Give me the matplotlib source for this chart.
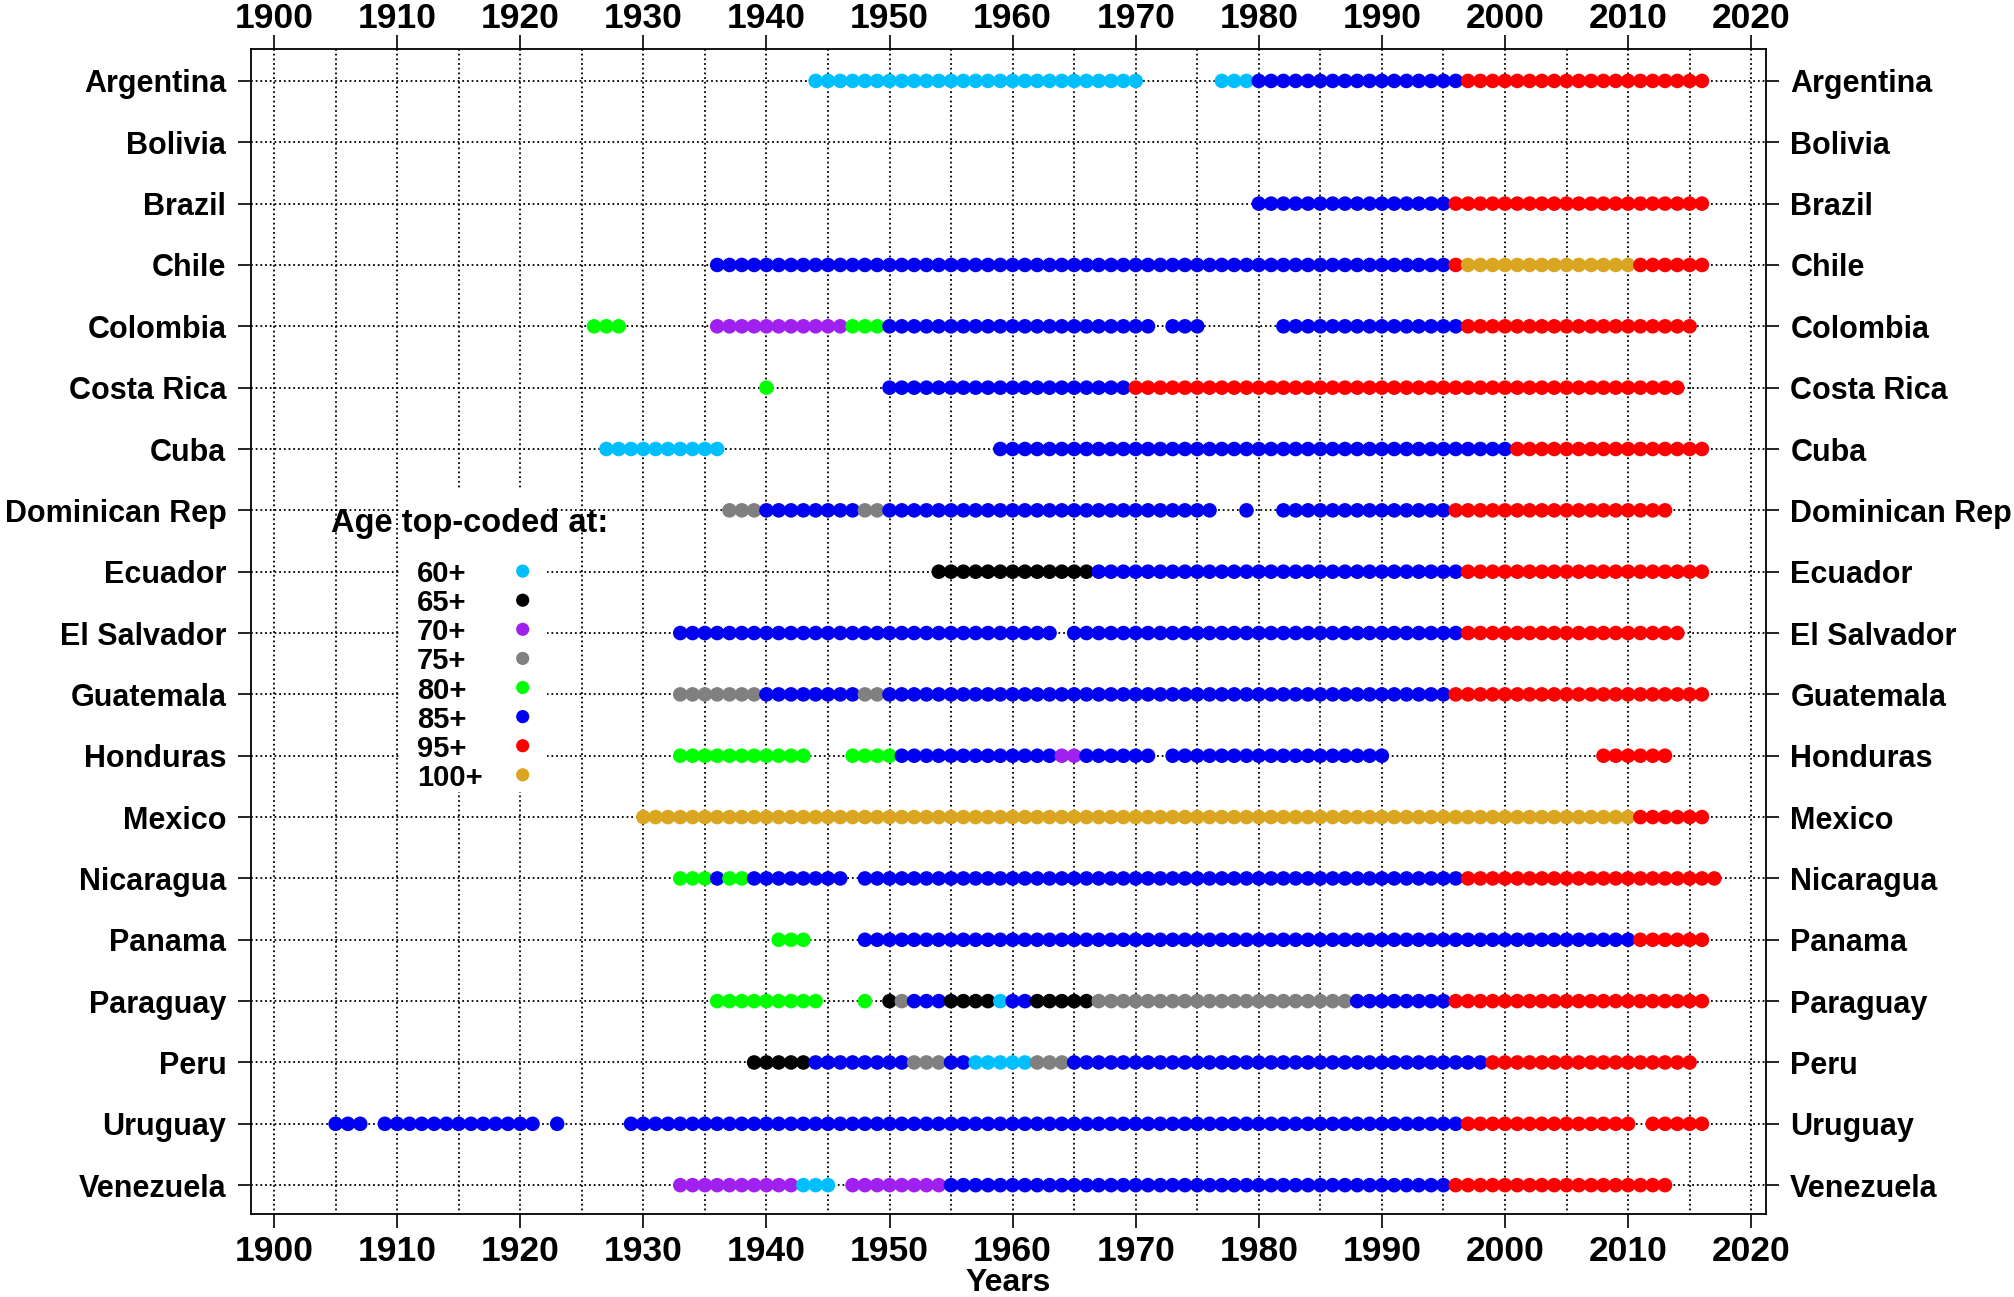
import matplotlib.pyplot as plt
from matplotlib.patches import Rectangle

plt.rcParams['font.family'] = ['Liberation Sans', 'DejaVu Sans']

countries = ['Argentina', 'Bolivia', 'Brazil', 'Chile', 'Colombia', 'Costa Rica', 'Cuba',
             'Dominican Rep', 'Ecuador', 'El Salvador', 'Guatemala', 'Honduras', 'Mexico',
             'Nicaragua', 'Panama', 'Paraguay', 'Peru', 'Uruguay', 'Venezuela']

# runs of consecutive years: (first year, last year, age top-code)
argentina = [(1944, 1970, 60), (1977, 1979, 60), (1980, 1996, 85), (1997, 2016, 95)]
bolivia = []
brazil = [(1980, 1995, 85), (1996, 2016, 95)]
chile = [(1936, 1995, 85), (1996, 1996, 95), (1997, 2010, 100), (2011, 2016, 95)]
colombia = [(1926, 1928, 80), (1936, 1946, 70), (1947, 1949, 80), (1950, 1971, 85),
            (1973, 1975, 85), (1982, 1996, 85), (1997, 2015, 95)]
costa_rica = [(1940, 1940, 80), (1950, 1969, 85), (1970, 2014, 95)]
cuba = [(1927, 1936, 60), (1959, 2000, 85), (2001, 2016, 95)]
dominican_rep = [(1937, 1939, 75), (1940, 1947, 85), (1948, 1949, 75), (1950, 1976, 85),
                 (1979, 1979, 85), (1982, 1995, 85), (1996, 2013, 95)]
ecuador = [(1954, 1966, 65), (1967, 1996, 85), (1997, 2016, 95)]
el_salvador = [(1933, 1963, 85), (1965, 1996, 85), (1997, 2014, 95)]
guatemala = [(1933, 1939, 75), (1940, 1947, 85), (1948, 1949, 75), (1950, 1995, 85),
             (1996, 2016, 95)]
honduras = [(1933, 1943, 80), (1947, 1950, 80), (1951, 1963, 85), (1964, 1965, 70),
            (1966, 1971, 85), (1973, 1990, 85), (2008, 2013, 95)]
mexico = [(1930, 2010, 100), (2011, 2016, 95)]
nicaragua = [(1933, 1935, 80), (1936, 1936, 85), (1937, 1938, 80), (1939, 1946, 85),
             (1948, 1996, 85), (1997, 2017, 95)]
panama = [(1941, 1943, 80), (1948, 2010, 85), (2011, 2016, 95)]
paraguay = [(1936, 1944, 80), (1948, 1948, 80), (1950, 1950, 65), (1951, 1951, 75),
            (1952, 1954, 85), (1955, 1958, 65), (1959, 1959, 60), (1960, 1961, 85),
            (1962, 1966, 65), (1967, 1987, 75), (1988, 1995, 85), (1996, 2016, 95)]
peru = [(1939, 1943, 65), (1944, 1951, 85), (1952, 1954, 75), (1955, 1956, 85),
        (1957, 1961, 60), (1962, 1964, 75), (1965, 1998, 85), (1999, 2015, 95)]
uruguay = [(1905, 1907, 85), (1909, 1921, 85), (1923, 1923, 85), (1929, 1996, 85),
           (1997, 2010, 95), (2012, 2016, 95)]
venezuela = [(1933, 1942, 70), (1943, 1945, 60), (1947, 1954, 70), (1955, 1995, 85),
             (1996, 2013, 95)]

country_runs = [argentina, bolivia, brazil, chile, colombia, costa_rica, cuba, dominican_rep,
                ecuador, el_salvador, guatemala, honduras, mexico, nicaragua, panama,
                paraguay, peru, uruguay, venezuela]

age_codes = [60, 65, 70, 75, 80, 85, 95, 100]
age_labels = ['60+', '65+', '70+', '75+', '80+', '85+', '95+', '100+']
age_colors = ['#00BFFF', '#000000', '#A020F0', '#808080', '#00FF00', '#0000F2', '#FF0000', '#DAA520']
color_of = dict(zip(age_codes, age_colors))

year_ticks = list(range(1900, 2021, 10))
narrow = ['Liberation Sans Narrow', 'Liberation Sans']

fig = plt.figure(figsize=(20.15, 12.97), dpi=100)
ax = fig.add_axes([0.1244, 0.064, 0.752, 0.8982])

xlo, xhi = 1898.1, 2021.2
ylo, yhi = 18.47, -0.52

# dotted grid
grid_style = dict(color='black', linestyle=(0, (1, 1.6)), linewidth=1.3, zorder=1)
ax.vlines(range(1900, 2021, 5), yhi, ylo, **grid_style)
ax.hlines(range(len(countries)), xlo, xhi, **grid_style)

for row, runs in enumerate(country_runs):
    for first, last, code in runs:
        yrs = list(range(first, last + 1))
        ax.scatter(yrs, [row] * len(yrs), s=110, color=color_of[code],
                   edgecolors='none', zorder=3)

# legend (drawn by hand, white box behind the keys only)
ax.add_patch(Rectangle((1910.24, 6.67), 11.94, 4.92, facecolor='white',
                       edgecolor='none', zorder=2))
ax.text(1904.6, 7.35, 'Age top-coded at:', fontsize=23.5, fontweight='bold',
        ha='left', va='baseline', zorder=4)
for i, (lab, col) in enumerate(zip(age_labels, age_colors)):
    y = 7.99 + i * 0.4745
    ax.text(1911.6, y + 0.18, lab, fontsize=21, fontweight='bold',
            ha='left', va='baseline', zorder=4)
    ax.scatter(1920.2, y, s=90, color=col, edgecolors='none', zorder=4)

ax.set_xlim(xlo, xhi)
ax.set_ylim(ylo, yhi)

ax.set_xticks(year_ticks)
ax.set_xticklabels([str(y) for y in year_ticks], fontsize=25.5, fontweight='bold', family=narrow)
ax.tick_params(axis='x', top=True, labeltop=True, direction='out', length=10,
               width=1.2, pad=5)
for t in ax.xaxis.get_major_ticks():
    t.label2.set_va('baseline')

ax.set_yticks(range(len(countries)))
ax.set_yticklabels(countries, fontsize=22, fontweight='bold')
ax.tick_params(axis='y', left=True, right=True, labelleft=True, labelright=True,
               direction='out', length=9.5, width=1.2, pad=8)

ax.set_xlabel('Years', fontsize=23, fontweight='bold', family=narrow, labelpad=0)

for sp in ax.spines.values():
    sp.set_linewidth(1.3)

plt.savefig('out.png', dpi=100)
